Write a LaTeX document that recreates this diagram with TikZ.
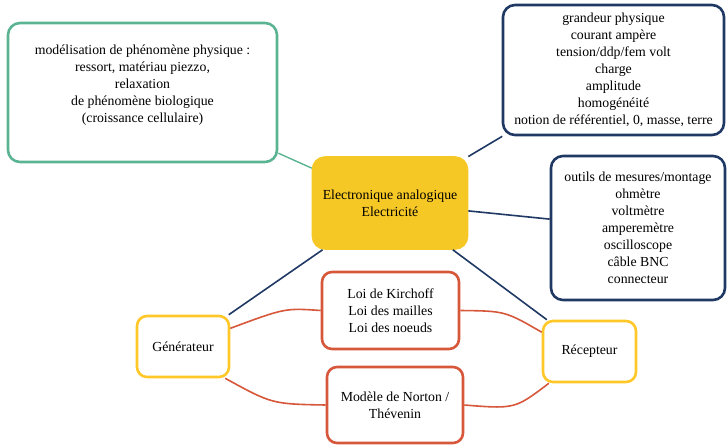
\documentclass[tikz,border=0pt]{standalone}
\usepackage{fontspec}
\setmainfont{Liberation Serif}
\usepackage{xcolor}
\definecolor{bleu}{RGB}{31,56,100}
\definecolor{vert}{RGB}{91,180,145}
\definecolor{rouge}{RGB}{214,87,58}
\definecolor{jaune}{RGB}{255,200,40}
\definecolor{jaunefond}{RGB}{246,200,38}

\begin{document}
\begin{tikzpicture}[x=1pt,y=-1pt]
	\tikzstyle{every node}=[align=center, rectangle, rounded corners=12pt, line width=2.6pt, font=\fontsize{13.8}{17}\selectfont]
	\tikzstyle{boitevert}=[draw=vert]
	\tikzstyle{boitebleu}=[draw=bleu]
	\tikzstyle{boiterouge}=[draw=rouge, rounded corners=10pt]
	\tikzstyle{boitejaune}=[draw=jaune, rounded corners=10pt]
	\useasboundingbox (0,0) rectangle (727,445);

	\node [fill=jaunefond, draw=jaunefond, minimum width=154pt, minimum height=91pt] (elec) at (390,203) {Electronique analogique\\Electricité};
	\node [boitevert, minimum width=269pt, minimum height=139pt, text depth=17pt] (modele) at (142.5,92.5) {modélisation de phénomène physique :\\ressort, matériau piezzo,\\relaxation\\de phénomène biologique\\(croissance cellulaire)};
	\node [boitebleu, minimum width=221pt, minimum height=130pt] (grandeur) at (613.5,70) {grandeur physique\\courant ampère\\tension/ddp/fem volt\\charge\\amplitude\\homogénéité\\notion de référentiel, 0, masse, terre};
	\node [boitebleu, minimum width=174pt, minimum height=144pt] (outils) at (638,228) {outils de mesures/montage\\ohmètre\\voltmètre\\amperemètre\\oscilloscope\\câble BNC\\connecteur};
	\node [boiterouge, minimum width=137pt, minimum height=77pt] (kirch) at (390.5,310.5) {Loi de Kirchoff\\Loi des mailles\\Loi des noeuds};
	\node [boiterouge, minimum width=136pt, minimum height=76pt] (norton) at (395,405) {Modèle de Norton /\\Thévenin};
	\node [boitejaune, minimum width=92pt, minimum height=61pt] (gen) at (183,346.5) {Générateur};
	\node [boitejaune, minimum width=93pt, minimum height=61pt] (rec) at (589.5,351.5) {Récepteur};

	\draw [vert, line width=1.4pt] (modele) -- (elec);
	\draw [bleu, line width=1.6pt] (elec) -- (grandeur);
	\draw [bleu, line width=1.6pt] (elec) -- (outils);
	\draw [bleu, line width=1.6pt] (elec) -- (gen);
	\draw [bleu, line width=1.6pt] (elec) -- (rec);
	\draw [rouge, line width=1.6pt] (gen.21) .. controls (285,308) .. (kirch.west);
	\draw [rouge, line width=1.6pt] (kirch.east) .. controls (505,311) .. (rec.158);
	\draw [rouge, line width=1.6pt] (gen.-37) .. controls (272,404) .. (norton.west);
	\draw [rouge, line width=1.6pt] (norton.east) .. controls (515,409) .. (rec.218);
\end{tikzpicture}
\end{document}
